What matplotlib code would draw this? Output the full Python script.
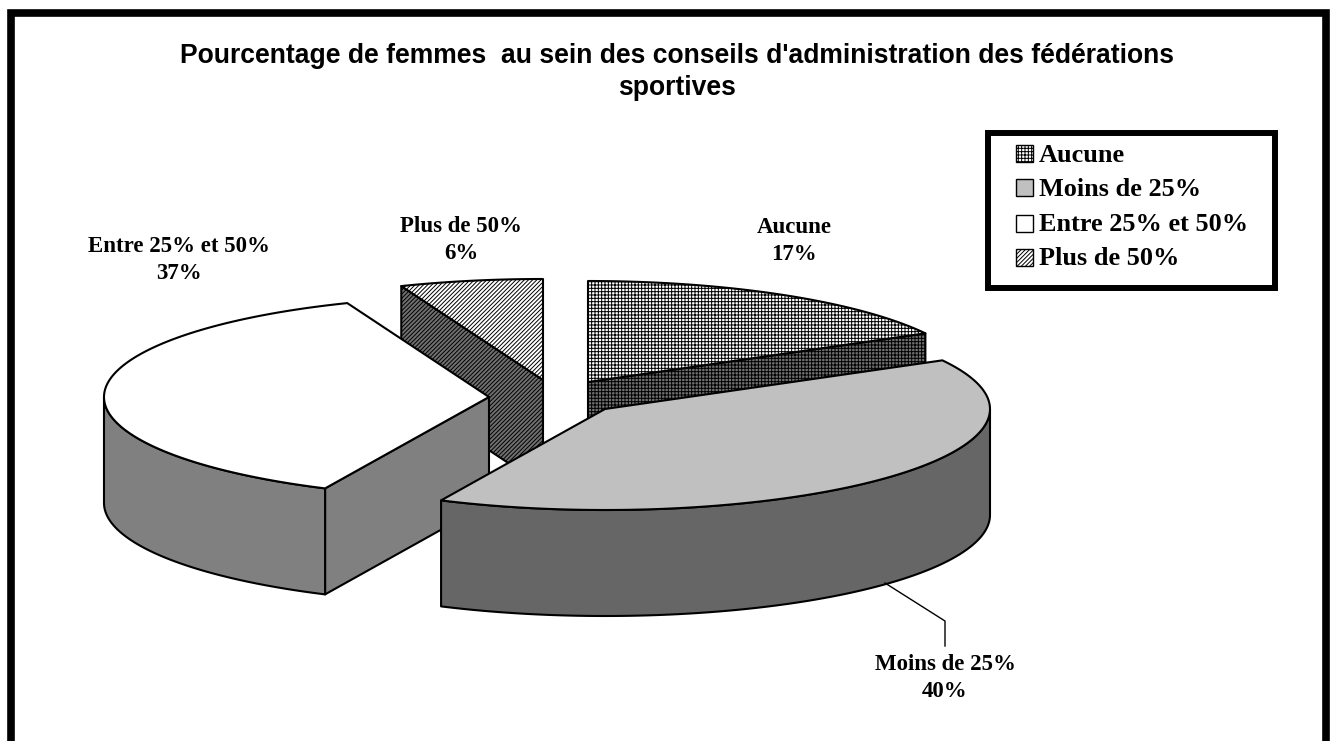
import numpy as np
import matplotlib
matplotlib.use('Agg')
import matplotlib.pyplot as plt
from matplotlib.patches import Polygon, Rectangle

categories = ['Aucune', 'Moins de 25%', 'Entre 25% et 50%', 'Plus de 50%']
shares = [17, 40, 37, 6]
title = "Pourcentage de femmes  au sein des conseils d'administration des fédérations\nsportives"

# pixel layout of the exploded pie
centers = [(588, 382), (605, 409), (489, 397), (543, 380)]
label_pos = [(794, 241), (945, 678), (179, 260), (461, 240)]
RX, RY, DEPTH = 385, 101, 106

plt.rcParams['hatch.linewidth'] = 0.7

fig = plt.figure(figsize=(13.31, 7.41), dpi=100)
ax = fig.add_axes([0, 0, 1, 1])
ax.set_xlim(0, 1331)
ax.set_ylim(741, 0)
ax.axis('off')


def rim(c, a0, a1, dy=0):
    # clockwise angles from the top of the ellipse, in degrees
    t = np.radians(np.linspace(a0, a1, 120))
    return np.column_stack([c[0] + RX * np.sin(t), c[1] - RY * np.cos(t) + dy])


def face(pts, color, hatch=None, z=2):
    if hatch:
        ax.add_patch(Polygon(pts, closed=True, facecolor=color, edgecolor='black',
                             hatch=hatch, linewidth=0, zorder=z))
    else:
        ax.add_patch(Polygon(pts, closed=True, facecolor=color, edgecolor='none', zorder=z))
    ax.add_patch(Polygon(pts, closed=True, fill=False, edgecolor='black',
                         linewidth=1.5, joinstyle='round', zorder=z))


def radial_wall(c, a, color, hatch=None):
    p = rim(c, a, a)[0]
    return face([p, c, (c[0], c[1] + DEPTH), (p[0], p[1] + DEPTH)], color, hatch)


edges = np.cumsum([0] + shares) * 3.6
dots = '+' * 5
slant = '/' * 8

# back to front: Plus, Aucune, Entre, Moins
c = centers[3]
radial_wall(c, edges[3], '#707070', slant)
face(np.vstack([rim(c, edges[3], edges[4]), [c]]), 'white', slant)

c = centers[0]
radial_wall(c, edges[1], '#707070', dots)
face(np.vstack([rim(c, edges[0], edges[1]), [c]]), 'white', dots)

c = centers[2]
radial_wall(c, edges[2], '#808080')
face(np.vstack([rim(c, edges[2], 270), rim(c, 270, edges[2], DEPTH)]), '#808080')
face(np.vstack([rim(c, edges[2], edges[3]), [c]]), 'white')

c = centers[1]
face(np.vstack([rim(c, 90, edges[2]), rim(c, edges[2], 90, DEPTH)]), '#666666')
face(np.vstack([rim(c, edges[1], edges[2]), [c]]), '#c0c0c0')

# leader line of the Moins de 25% label
ax.plot([885, 945, 945], [583, 621, 646], color='black', lw=1, zorder=3)

for name, share, pos in zip(categories, shares, label_pos):
    ax.text(pos[0], pos[1], f'{name}\n{share}%', ha='center', va='center',
            family='Liberation Serif', fontweight='bold', fontsize=16.5,
            linespacing=1.36, zorder=4)

ax.text(677, 72, title, ha='center', va='center', family='Liberation Sans',
        fontweight='bold', fontsize=19.1, linespacing=1.28)

# legend
ax.add_patch(Rectangle((988, 133), 287, 155, fill=False, edgecolor='black',
                       linewidth=4.3, joinstyle='miter', zorder=5))
legend_fill = ['white', '#c0c0c0', 'white', 'white']
legend_hatch = [dots, None, None, slant]
legend_y = [153, 187, 223.5, 257]
legend_base = [162, 196, 231, 265]
for i, name in enumerate(categories):
    y = legend_y[i]
    ax.add_patch(Rectangle((1016, y - 8.5), 17, 17, facecolor=legend_fill[i], edgecolor='black',
                           hatch=legend_hatch[i], linewidth=1, zorder=5))
    ax.text(1039, legend_base[i], name, ha='left', va='baseline', family='Liberation Serif',
            fontweight='bold', fontsize=18.9, zorder=5)

# outer frame, open at the bottom
ax.plot([11, 11, 1326, 1326], [741, 13, 13, 741], color='black', lw=5.5,
        solid_joinstyle='miter', solid_capstyle='butt', zorder=6)

fig.savefig('out.png', dpi=100)
